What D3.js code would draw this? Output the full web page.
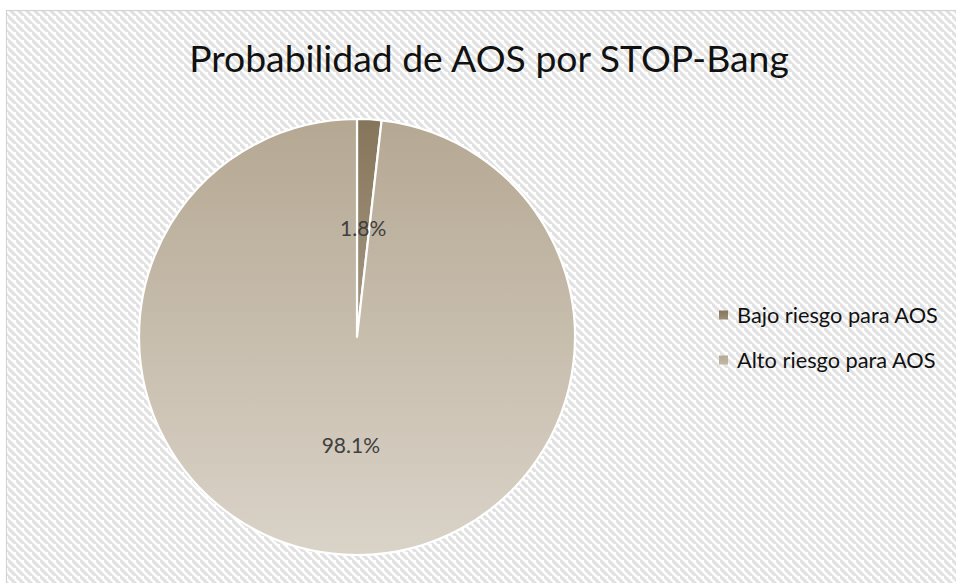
<!DOCTYPE html>
<html lang="en">
<head>
<meta charset="utf-8">
<title>Probabilidad de AOS</title>
<script src="https://d3js.org/d3.v7.min.js"></script>
<style>
  body { margin: 0; background: #fff; }
  text { font-family: Lato, "Open Sans", sans-serif; }
</style>
</head>
<body>
<div id="main"></div>
<script>
var width = 956, height = 583;

// data
var categories = ["Bajo riesgo para AOS", "Alto riesgo para AOS"];
var values = [1.8, 98.1];
var labels = ["1.8%", "98.1%"];
var title = "Probabilidad de AOS por STOP-Bang";

// slice colours (top / bottom of gradient)
var topColors = ["#85755a", "#b5a893"];
var botColors = ["#c8bfae", "#dad3c8"];

var cx = 357, cy = 337, r = 218;

var svg = d3.select("#main").append("svg")
  .attr("width", width).attr("height", height);

var defs = svg.append("defs");

// wide downward diagonal background
var pat = defs.append("pattern")
  .attr("id", "diag").attr("patternUnits", "userSpaceOnUse")
  .attr("width", 8).attr("height", 8);
pat.append("rect").attr("width", 8).attr("height", 8).attr("fill", "#fff");
pat.append("path")
  .attr("d", "M-2,-2 L10,10 M-6,2 L2,10 M6,-6 L14,2")
  .attr("stroke", "#e1e1e1").attr("stroke-width", 3.2);

svg.append("rect")
  .attr("x", 6.5).attr("y", 10.5)
  .attr("width", width + 10).attr("height", height + 10)
  .attr("fill", "url(#diag)")
  .attr("stroke", "#d4d4d4").attr("stroke-width", 1.2);

categories.forEach(function(c, i) {
  var g = defs.append("linearGradient")
    .attr("id", "grad" + i).attr("gradientUnits", "userSpaceOnUse")
    .attr("x1", 0).attr("x2", 0).attr("y1", cy - r).attr("y2", cy + r);
  g.append("stop").attr("offset", "0%").attr("stop-color", topColors[i]);
  g.append("stop").attr("offset", "100%").attr("stop-color", botColors[i]);
  var lg = defs.append("linearGradient")
    .attr("id", "lgrad" + i)
    .attr("x1", 0).attr("x2", 0).attr("y1", 0).attr("y2", 1);
  lg.append("stop").attr("offset", "0%").attr("stop-color", topColors[i]);
  lg.append("stop").attr("offset", "100%").attr("stop-color", d3.interpolateRgb(topColors[i], botColors[i])(0.35));
});

// fit a text to a target width
function fit(sel, w) {
  var len = sel.node().getComputedTextLength();
  var fs = parseFloat(sel.attr("font-size"));
  sel.attr("font-size", (fs * w / len).toFixed(2));
}

// title
var t = svg.append("text")
  .attr("x", 489).attr("y", 72)
  .attr("text-anchor", "middle")
  .attr("font-size", 36).attr("fill", "#111")
  .text(title);
fit(t, 600);

// pie
var pie = d3.pie().sort(null).value(function(d) { return d; });
var arcs = pie(values);
var arc = d3.arc().innerRadius(0).outerRadius(r);
var labelArc = d3.arc().innerRadius(r / 2).outerRadius(r / 2);

var pg = svg.append("g").attr("transform", "translate(" + cx + "," + cy + ")");

pg.selectAll("path.slice")
  .data(arcs).enter().append("path")
  .attr("class", "slice")
  .attr("d", arc)
  .attr("fill", function(d, i) { return "url(#grad" + i + ")"; })
  .attr("stroke", "#fff").attr("stroke-width", 2.2)
  .attr("stroke-linejoin", "round");

// gradient defined in user space of svg; move gradients into pie coords
defs.selectAll("linearGradient[id^=grad]")
  .attr("y1", -r).attr("y2", r);

pg.selectAll("text.lbl")
  .data(arcs).enter().append("text")
  .attr("class", "lbl")
  .attr("transform", function(d) { return "translate(" + labelArc.centroid(d) + ")"; })
  .attr("text-anchor", "middle")
  .attr("dy", "0.35em")
  .attr("font-size", 21)
  .attr("fill", "#404040")
  .text(function(d, i) { return labels[i]; });

// legend
var leg = svg.append("g").attr("transform", "translate(719,0)");
var rows = leg.selectAll("g").data(categories).enter().append("g")
  .attr("transform", function(d, i) { return "translate(0," + (315 + i * 45) + ")"; });
rows.append("rect")
  .attr("x", 0).attr("y", -4.5).attr("width", 9).attr("height", 9)
  .attr("fill", function(d, i) { return "url(#lgrad" + i + ")"; });
rows.append("text")
  .attr("x", 18).attr("y", 0).attr("dy", "0.35em")
  .attr("font-size", 21).attr("fill", "#111")
  .text(function(d) { return d; });
fit(rows.filter(function(d, i) { return i === 0; }).select("text"), 201);
rows.filter(function(d, i) { return i === 1; }).select("text")
  .attr("font-size", rows.filter(function(d, i) { return i === 0; }).select("text").attr("font-size"));
</script>
</body>
</html>
